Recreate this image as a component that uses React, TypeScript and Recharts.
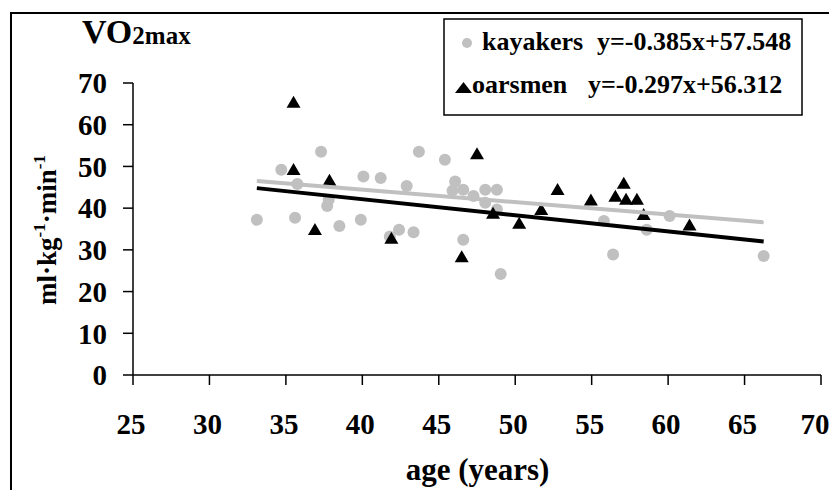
import React from 'react';
import { ScatterChart, Scatter, XAxis, YAxis, Customized } from 'recharts';

const FONT = '"Liberation Serif", "Times New Roman", serif';

const xTicks = [25, 30, 35, 40, 45, 50, 55, 60, 65, 70];
const yTicks = [0, 10, 20, 30, 40, 50, 60, 70];

const kayakers = [
  { x: 33.1, y: 37.2 }, { x: 34.7, y: 49.2 }, { x: 35.6, y: 37.7 }, { x: 35.75, y: 45.8 },
  { x: 37.3, y: 53.5 }, { x: 37.8, y: 42.0 }, { x: 37.7, y: 40.5 }, { x: 38.5, y: 35.7 },
  { x: 39.9, y: 37.2 }, { x: 40.07, y: 47.6 }, { x: 41.2, y: 47.2 }, { x: 41.8, y: 33.2 },
  { x: 42.4, y: 34.8 }, { x: 42.9, y: 45.3 }, { x: 43.35, y: 34.2 }, { x: 43.7, y: 53.5 },
  { x: 45.4, y: 51.6 }, { x: 46.07, y: 46.4 }, { x: 45.9, y: 44.2 }, { x: 46.6, y: 44.4 },
  { x: 47.27, y: 42.9 }, { x: 48.04, y: 44.4 }, { x: 48.8, y: 44.4 }, { x: 48.04, y: 41.3 },
  { x: 48.8, y: 39.7 }, { x: 46.6, y: 32.4 }, { x: 49.05, y: 24.2 }, { x: 55.8, y: 36.9 },
  { x: 56.4, y: 28.9 }, { x: 58.6, y: 34.8 }, { x: 60.1, y: 38.1 }, { x: 66.25, y: 28.5 },
];

const oarsmen = [
  { x: 35.5, y: 65.0 }, { x: 35.5, y: 48.9 }, { x: 36.9, y: 34.5 }, { x: 37.85, y: 46.3 },
  { x: 41.9, y: 32.4 }, { x: 46.5, y: 28.0 }, { x: 47.5, y: 52.7 }, { x: 48.55, y: 38.4 },
  { x: 50.26, y: 36.0 }, { x: 51.7, y: 39.3 }, { x: 52.77, y: 44.1 }, { x: 54.95, y: 41.6 },
  { x: 56.55, y: 42.5 }, { x: 57.1, y: 45.6 }, { x: 57.25, y: 41.8 }, { x: 57.96, y: 41.8 },
  { x: 58.4, y: 38.1 }, { x: 61.4, y: 35.6 },
];

// trend lines as drawn in the figure (end points)
const grayTrend = [{ x: 33.1, y: 46.5 }, { x: 66.25, y: 36.6 }];
const blackTrend = [{ x: 33.1, y: 44.8 }, { x: 66.25, y: 32.0 }];

const seriesNames = ['kayakers', 'oarsmen'];
const equations = ['y=-0.385x+57.548', 'y=-0.297x+56.312'];

const GRAY = '#c0c0c0';

const CircleShape = (props: any) => {
  const { cx, cy } = props;
  if (cx == null || cy == null) return <g />;
  return <circle cx={cx} cy={cy} r={6} fill={GRAY} />;
};

const TriShape = (props: any) => {
  const { cx, cy } = props;
  if (cx == null || cy == null) return <g />;
  const w = 14;
  const h = 12;
  return (
    <polygon
      points={`${cx},${cy - (2 * h) / 3} ${cx + w / 2},${cy + h / 3} ${cx - w / 2},${cy + h / 3}`}
      fill="#000"
    />
  );
};

const NoShape = () => <g />;

const XTick = (props: any) => {
  const { x, y, payload, index } = props;
  const last = index === xTicks.length - 1;
  return (
    <text
      x={x + (last ? -6 : -2)}
      y={y}
      dy={21}
      textAnchor="middle"
      fontSize={29}
      fontWeight="bold"
      fontFamily={FONT}
      fill="#000"
    >
      {payload.value}
    </text>
  );
};

const Overlay = () => (
  <g fontFamily={FONT} fontWeight="bold" fill="#000">
    <text x={74} y={35} fontSize={34}>
      VO<tspan fontSize={25} dy={1}>2max</tspan>
    </text>
    <text x={469.5} y={472} fontSize={31} textAnchor="middle">age (years)</text>
    <text transform="translate(48,222) rotate(-90)" textAnchor="middle" fontSize={27}>
      ml·kg<tspan fontSize={17} dy={-11}>-1</tspan>
      <tspan dy={11}>·min</tspan>
      <tspan fontSize={17} dy={-11}>-1</tspan>
    </text>
    <rect x={436} y={11} width={358} height={96} fill="#fff" stroke="#000" strokeWidth={1.5} />
    <circle cx={459} cy={35} r={5} fill={GRAY} />
    <text x={474} y={42} fontSize={26}>{seriesNames[0]}</text>
    <text x={589} y={42} fontSize={26}>{equations[0]}</text>
    <polygon points="455.5,74 464,85 447,85" fill="#000" />
    <text x={464} y={85} fontSize={26}>{seriesNames[1]}</text>
    <text x={580} y={85} fontSize={26}>{equations[1]}</text>
  </g>
);

const tickStyle = { fontSize: 29, fontWeight: 'bold', fill: '#000', fontFamily: FONT };

export default function App() {
  return (
    <div
      style={{
        position: 'relative',
        width: 829,
        height: 490,
        marginBottom: -8,
        overflow: 'hidden',
        background: '#fff',
      }}
    >
      <div
        style={{
          position: 'absolute',
          left: 2,
          top: 4,
          width: 1000,
          height: 1000,
          borderLeft: '2px solid #000',
          borderTop: '2px solid #000',
        }}
      />
      <div style={{ position: 'absolute', left: 0, top: 0 }}>
        <ScatterChart
          width={829}
          height={490}
          margin={{ top: 75, right: 16, bottom: 63, left: 0 }}
          style={{ overflow: 'visible' }}
        >
          <XAxis
            type="number"
            dataKey="x"
            domain={[25, 70]}
            ticks={xTicks}
            interval={0}
            allowDataOverflow
            height={60}
            tickSize={10}
            tickMargin={28}
            tick={<XTick />}
            axisLine={{ stroke: '#000', strokeWidth: 1.5 }}
            tickLine={{ stroke: '#000', strokeWidth: 1.5 }}
          />
          <YAxis
            type="number"
            dataKey="y"
            domain={[0, 70]}
            ticks={yTicks}
            interval={0}
            allowDataOverflow
            width={125}
            tickSize={10}
            tickMargin={16}
            tick={tickStyle}
            axisLine={{ stroke: '#000', strokeWidth: 1.5 }}
            tickLine={{ stroke: '#000', strokeWidth: 1.5 }}
          />
          <Scatter name={seriesNames[0]} data={kayakers} fill={GRAY} shape={CircleShape} isAnimationActive={false} />
          <Scatter name={seriesNames[1]} data={oarsmen} fill="#000" shape={TriShape} isAnimationActive={false} />
          <Scatter
            data={grayTrend}
            fill={GRAY}
            shape={NoShape}
            line={{ stroke: GRAY, strokeWidth: 4 }}
            legendType="none"
            isAnimationActive={false}
          />
          <Scatter
            data={blackTrend}
            fill="#000"
            shape={NoShape}
            line={{ stroke: '#000', strokeWidth: 4 }}
            legendType="none"
            isAnimationActive={false}
          />
          <Customized component={Overlay} />
        </ScatterChart>
      </div>
    </div>
  );
}
